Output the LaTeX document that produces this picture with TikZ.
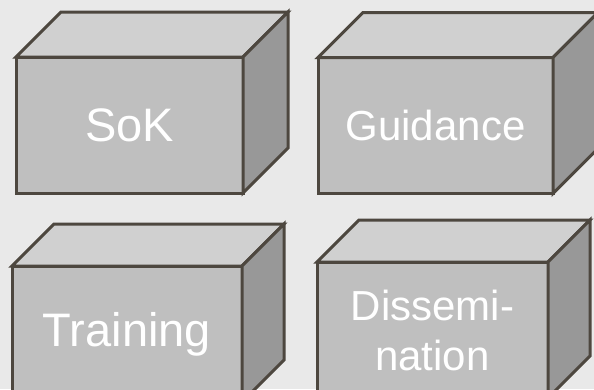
\documentclass[tikz,border=0pt]{standalone}
\usepackage{fontspec}
\setmainfont{Liberation Sans}
\usepackage{tikz}

\definecolor{bggray}{HTML}{E9E9E9}
\definecolor{frontgray}{HTML}{BFBFBF}
\definecolor{topgray}{HTML}{D0D0D0}
\definecolor{sidegray}{HTML}{989898}
\definecolor{edgebrown}{HTML}{4D473F}

\begin{document}
\begin{tikzpicture}[x=1pt,y=-1pt,line width=3pt,
        face/.style={draw=edgebrown,fill=frontgray,text=white,align=center,
          inner sep=0pt,outer sep=0pt,minimum height=136pt},
        topface/.style={draw=edgebrown,fill=topgray},
        sideface/.style={draw=edgebrown,fill=sidegray},
        big/.style={font=\fontsize{47}{52}\selectfont},
        small/.style={font=\fontsize{42}{50}\selectfont}]

        \useasboundingbox (0,0) rectangle (594,389);
        \clip (0,0) rectangle (594,389);
        \fill[bggray] (0,0) rectangle (594,389);

        \node at (129.5,125) [face,big,minimum width=227pt] (sok) {SoK};
        \node at (435.5,125.5) [face,small,minimum width=235pt] (guid) {Guidance};
        \node at (127,334) [face,big,minimum width=230pt] (train) {Training};
        \node at (432.5,330) [face,small,minimum width=231pt] (diss) {Dissemi-\\nation};

        \foreach \n/\d in {sok/45,guid/45,train/42,diss/42} {
          \draw[topface] (\n.north west) -- ++(\d,-\d)
            -- ([shift={(\d,-\d)}]\n.north east) -- (\n.north east) -- cycle;
          \draw[sideface] (\n.north east) -- ++(\d,-\d)
            -- ([shift={(\d,-\d)}]\n.south east) -- (\n.south east) -- cycle;
        }

      \end{tikzpicture}
\end{document}
